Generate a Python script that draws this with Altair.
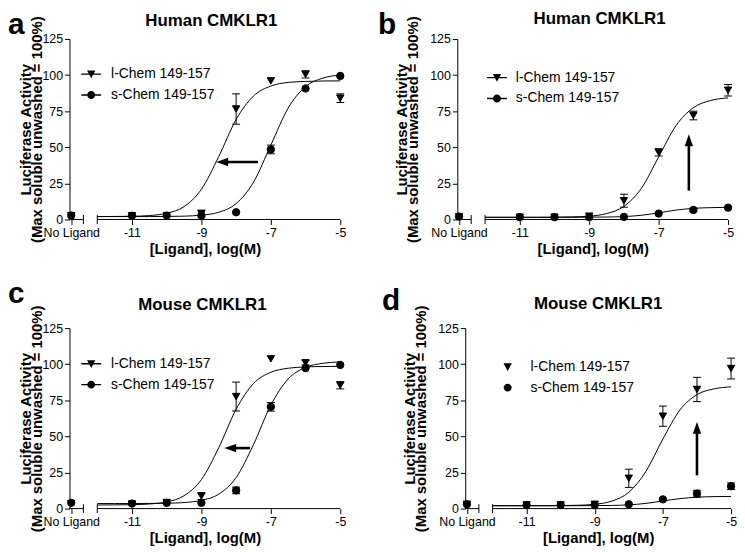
import altair as alt
import pandas as pd

FONT = "Liberation Sans"
SERIES = ["l-Chem 149-157", "s-Chem 149-157"]
NO_LIGAND_X = -12.75
DOSES = [NO_LIGAND_X, -11, -10, -9, -8, -7, -6, -5]
X_TICKS = [NO_LIGAND_X, -11, -9, -7, -5]
Y_TICKS = [0, 25, 50, 75, 100, 125]
X_DOMAIN = [-12.8, -5]
Y_DOMAIN = [0, 125]
FIT_X = [-12, -11.5, -11, -10.5, -10, -9.5, -9, -8.5, -8, -7.5, -7, -6.5, -6, -5.5, -5]
AXIS_SEG_START = [-12.8, -12.0]
AXIS_SEG_END = [-12.4, -5.0]
BREAK_X = [-12.4, -12.0]
PLOT_H = 182

# Panel a - Human CMKLR1
A_L = [2.7, 2.6, 2.7, 4.0, 76.5, 96.0, 100.5, 84.0]
A_L_SEM = [0, 0, 0, 2.5, 10.5, 0, 2.5, 3.0]
A_S = [2.7, 2.6, 2.7, 2.8, 5.0, 48.5, 90.7, 99.4]
A_S_SEM = [0, 0, 0, 0, 0, 3.0, 0, 0]
A_L_FIT = [2.0, 2.1, 2.2, 2.7, 4.3, 8.9, 20.9, 43.6, 69.2, 85.5, 92.4, 94.9, 95.6, 95.9, 96.0]
A_S_FIT = [2.0, 2.0, 2.0, 2.0, 2.1, 2.3, 3.0, 5.0, 11.0, 25.8, 51.5, 77.2, 92.0, 97.9, 100.0]
A_ARROW_X = [-7.37, -8.4]
A_ARROW_Y = [39.8, 39.8]

# Panel b - Human CMKLR1
B_L = [2.0, 1.6, 1.6, 2.3, 13.0, 46.5, 72.0, 89.5]
B_L_SEM = [0, 0, 0, 0, 4.5, 2.5, 3.0, 4.0]
B_S = [2.0, 1.6, 1.6, 1.6, 1.8, 4.1, 6.6, 8.2]
B_S_SEM = [0, 0, 0, 0, 0, 0, 1.2, 0]
B_L_FIT = [1.5, 1.5, 1.5, 1.5, 1.6, 1.8, 2.3, 4.1, 9.1, 21.5, 43.3, 65.0, 77.4, 82.4, 84.2]
B_S_FIT = [1.5, 1.5, 1.5, 1.5, 1.5, 1.5, 1.6, 1.7, 2.0, 2.9, 4.6, 6.5, 7.7, 8.2, 8.4]
B_ARROW_X = [-6.13, -6.13]
B_ARROW_Y = [20.0, 54.9]

# Panel c - Mouse CMKLR1
C_L = [3.4, 3.2, 4.2, 8.7, 77.6, 103.7, 101.0, 85.4]
C_L_SEM = [0, 0, 0, 2.3, 10.0, 0, 1.5, 2.5]
C_S = [4.0, 3.5, 4.0, 4.0, 12.6, 70.5, 97.3, 99.5]
C_S_SEM = [0, 0, 0, 0, 2.3, 3.0, 0, 0]
C_L_FIT = [2.5, 2.6, 2.7, 3.2, 4.6, 8.9, 20.1, 42.2, 68.8, 86.6, 94.4, 97.2, 98.1, 98.4, 98.5]
C_S_FIT = [3.5, 3.5, 3.5, 3.6, 3.7, 4.2, 5.7, 10.0, 21.5, 44.3, 71.6, 89.8, 97.8, 100.6, 101.6]
C_ARROW_X = [-7.6, -8.17]
C_ARROW_Y = [41.9, 41.9]

# Panel d - Mouse CMKLR1
D_L = [3.0, 2.5, 2.5, 3.0, 21.0, 64.0, 82.5, 97.0]
D_L_SEM = [0, 0, 0, 0, 6.3, 7.0, 8.4, 7.2]
D_S = [3.0, 2.5, 2.5, 2.5, 3.0, 6.4, 10.4, 15.5]
D_S_SEM = [0, 0, 0, 0, 0, 0, 2.3, 2.3]
D_L_FIT = [2.0, 2.0, 2.0, 2.0, 2.1, 2.3, 3.0, 5.2, 11.3, 25.7, 48.2, 68.3, 78.9, 82.9, 84.3]
D_S_FIT = [2.0, 2.0, 2.0, 2.0, 2.0, 2.0, 2.1, 2.2, 2.6, 3.6, 5.3, 6.9, 7.9, 8.3, 8.4]
D_ARROW_X = [-6.0, -6.0]
D_ARROW_Y = [23.0, 55.9]

# legend symbols: a thin filled bar (the line) plus the marker
TRI_LINE = "M-1,-0.07L1,-0.07L1,0.07L-1,0.07Z M-0.42,-0.36L0.42,-0.36L0,0.42Z"
CIRC_LINE = "M-1,-0.07L1,-0.07L1,0.07L-1,0.07Z M-0.4,0A0.4,0.4,0,1,1,0.4,0A0.4,0.4,0,1,1,-0.4,0Z"
TRI = "M-0.42,-0.36L0.42,-0.36L0,0.42Z"
CIRC = "M-0.4,0A0.4,0.4,0,1,1,0.4,0A0.4,0.4,0,1,1,-0.4,0Z"
HEAD_LEFT = "M-1,0L1,-0.7L1,0.7Z"
HEAD_UP = "M0,-1L-0.7,1L0.7,1Z"


def panel(plot_w, letter, letter_x, letter_y, title, title_dx, title_y, l, l_sem, s, s_sem,
          l_fit, s_fit, arrow_x, arrow_y, head, leg_x, leg_y, leg_paths, leg_offset, y_title_pad):
    xs = alt.Scale(domain=X_DOMAIN, nice=False, zero=False)
    ys = alt.Scale(domain=Y_DOMAIN, nice=False, zero=False)
    xaxis = alt.Axis(values=X_TICKS, domain=False, tickSize=5, labelFontSize=12.5, labelPadding=2,
                     labelFlush=False, labelOverlap=False,
                     labelExpr="datum.value < -12 ? 'No Ligand' : '' + datum.value",
                     title="[Ligand], log(M)", titleFontSize=15, titleFontWeight="bold", titlePadding=3)
    yaxis = alt.Axis(values=Y_TICKS, tickSize=5, labelFontSize=12.5, labelPadding=2,
                     title=["Luciferase Activity", "(Max soluble unwashed = 100%)"],
                     titleFontSize=15, titleFontWeight="bold", titleLineHeight=11.5,
                     titlePadding=y_title_pad)

    def X(f):
        return alt.X(f, type="quantitative", scale=xs, axis=xaxis)

    def Y(f):
        return alt.Y(f, type="quantitative", scale=ys, axis=yaxis)

    pts = pd.DataFrame({"x": DOSES * 2, "y": l + s, "sem": l_sem + s_sem,
                        "series": [SERIES[0]] * len(l) + [SERIES[1]] * len(s)})
    pts["lo"] = pts["y"] - pts["sem"]
    pts["hi"] = pts["y"] + pts["sem"]
    err = pts[pts["sem"] > 0]
    caps = pd.concat([err[["x", "lo"]].rename(columns={"lo": "y"}),
                      err[["x", "hi"]].rename(columns={"hi": "y"})])
    fit = pd.DataFrame({"x": FIT_X * 2, "y": l_fit + s_fit,
                        "series": [SERIES[0]] * len(l_fit) + [SERIES[1]] * len(s_fit)})
    seg = pd.DataFrame({"x": AXIS_SEG_START, "x2": AXIS_SEG_END, "y": [0, 0]})
    brk = pd.DataFrame({"x": BREAK_X, "y": [0, 0]})
    arr = pd.DataFrame({"x": [arrow_x[0]], "x2": [arrow_x[1]], "y": [arrow_y[0]], "y2": [arrow_y[1]]})
    arr_head = pd.DataFrame({"x": [arrow_x[1]], "y": [arrow_y[1]]})

    layers = [
        alt.Chart(seg).mark_rule(color="black", strokeWidth=1).encode(x=X("x"), x2="x2", y=Y("y")),
        alt.Chart(brk).mark_tick(orient="vertical", size=9, thickness=1, color="black", opacity=1)
        .encode(x=X("x"), y=Y("y")),
        alt.Chart(fit).mark_line(color="black", strokeWidth=1, interpolate="monotone")
        .encode(x=X("x"), y=Y("y"), detail="series:N"),
        alt.Chart(err).mark_rule(color="black", strokeWidth=1).encode(x=X("x"), y=Y("lo"), y2="hi"),
        alt.Chart(caps).mark_tick(orient="horizontal", size=8, thickness=1, color="black", opacity=1)
        .encode(x=X("x"), y=Y("y")),
        alt.Chart(pts[pts["series"] == SERIES[0]]).mark_point(
            shape="triangle-down", filled=True, size=55, fill="black", stroke="black",
            strokeWidth=1, opacity=1).encode(x=X("x"), y=Y("y")),
        alt.Chart(pts[pts["series"] == SERIES[1]]).mark_point(
            shape="circle", filled=True, size=55, fill="black", stroke="black",
            strokeWidth=1, opacity=1).encode(x=X("x"), y=Y("y")),
        alt.Chart(arr).mark_rule(color="black", strokeWidth=2.6)
        .encode(x=X("x"), x2="x2", y=Y("y"), y2="y2"),
        alt.Chart(arr_head).mark_point(shape=head, filled=True, size=144, fill="black",
                                       strokeWidth=0, opacity=1).encode(x=X("x"), y=Y("y")),
        alt.Chart(pts).transform_filter("false").mark_point(
            filled=True, size=400, color="black", opacity=1
        ).encode(
            x=X("x"), y=Y("y"),
            shape=alt.Shape("series:N", scale=alt.Scale(domain=SERIES, range=leg_paths),
                            legend=alt.Legend(title=None, orient="none", legendX=leg_x, legendY=leg_y,
                                              symbolSize=400, labelFontSize=14, labelFont=FONT,
                                              labelColor="black", labelOffset=leg_offset,
                                              rowPadding=2, padding=0, labelLimit=300))),
        # panel letter
        alt.Chart(pd.DataFrame({"t": [letter]})).mark_text(
            align="left", baseline="alphabetic", fontSize=30, fontWeight="bold", font=FONT, color="black")
        .encode(text="t:N", x=alt.value(letter_x), y=alt.value(letter_y)),
        # panel title
        alt.Chart(pd.DataFrame({"t": [title]})).mark_text(
            align="center", baseline="alphabetic", fontSize=17, fontWeight="bold", font=FONT, color="black")
        .encode(text="t:N", x=alt.value(plot_w / 2 + title_dx), y=alt.value(title_y)),
    ]
    return alt.layer(*layers).properties(width=plot_w, height=PLOT_H)


pa = panel(273, "a", -62, -5, "Human CMKLR1", 6.5, -13.5, A_L, A_L_SEM, A_S, A_S_SEM, A_L_FIT, A_S_FIT,
           A_ARROW_X, A_ARROW_Y, HEAD_LEFT, 10.9, 24.5, [TRI_LINE, CIRC_LINE], 9, -3)
pb = panel(273, "b", -80, -5, "Human CMKLR1", 7, -15, B_L, B_L_SEM, B_S, B_S_SEM, B_L_FIT, B_S_FIT,
           B_ARROW_X, B_ARROW_Y, HEAD_UP, 29, 28, [TRI_LINE, CIRC_LINE], 8, 9)
pc = panel(273, "c", -62, -25, "Mouse CMKLR1", -2.5, -18.5, C_L, C_L_SEM, C_S, C_S_SEM, C_L_FIT, C_S_FIT,
           C_ARROW_X, C_ARROW_Y, HEAD_LEFT, 10.9, 25, [TRI_LINE, CIRC_LINE], 9, -3)
pd_ = panel(268, "d", -84, -18, "Mouse CMKLR1", 0, -19.5, D_L, D_L_SEM, D_S, D_S_SEM, D_L_FIT, D_S_FIT,
            D_ARROW_X, D_ARROW_Y, HEAD_UP, 31.8, 28, [TRI, CIRC], 12, 9)

top = alt.hconcat(pa, pb, spacing=32).resolve_scale(shape="independent").resolve_legend(shape="independent")
bottom = alt.hconcat(pc, pd_, spacing=36).resolve_scale(shape="independent").resolve_legend(shape="independent")
chart = alt.vconcat(top, bottom, spacing=22.5).resolve_scale(shape="independent").resolve_legend(
    shape="independent").properties(padding=0).configure_view(
    stroke=None).configure_axis(
    domainColor="black", tickColor="black", labelColor="black", titleColor="black",
    labelFont=FONT, titleFont=FONT, grid=False, domainWidth=1, tickWidth=1)

chart.save("out.html", embed_options={"renderer": "svg", "actions": False})
